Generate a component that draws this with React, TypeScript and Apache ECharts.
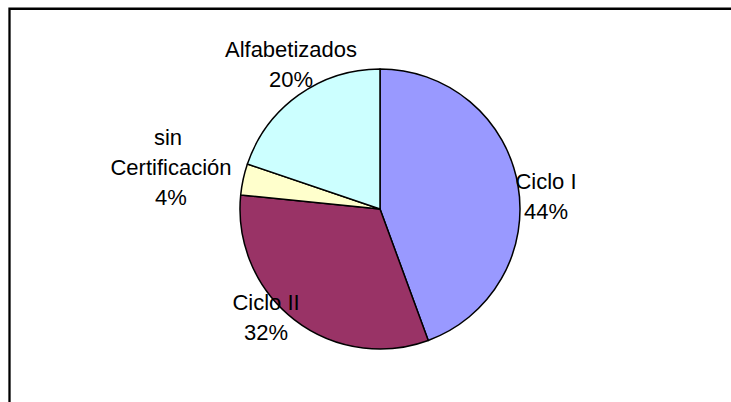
import React, { useEffect, useRef } from "react";
import * as echarts from "echarts";

const categories = ["Ciclo I", "Ciclo II", "sin Certificación", "Alfabetizados"];
const values = [44.4, 32.2, 3.6, 19.8];
const colors = ["#9999FF", "#993366", "#FFFFCC", "#CCFFFF"];

export default function App() {
  const ref = useRef<HTMLDivElement>(null);
  useEffect(() => {
    if (!ref.current) return;
    const chart = echarts.init(ref.current, undefined, { renderer: "svg" });
    const labelCenters: [number, number][] = [
      [546, 196],
      [266, 317],
      [171, 167],
      [291, 64],
    ];
    chart.setOption({
      animation: false,
      backgroundColor: "#ffffff",
      graphic: [
        {
          type: "rect",
          shape: { x: 9.5, y: 8.75, width: 800, height: 500 },
          style: { fill: "none", stroke: "#000000", lineWidth: 2.3 },
          silent: true,
        },
      ],
      series: [
        {
          type: "pie",
          center: [380, 209],
          radius: 140,
          startAngle: 90,
          clockwise: true,
          percentPrecision: 0,
          avoidLabelOverlap: false,
          itemStyle: { borderColor: "#000000", borderWidth: 1.5 },
          emphasis: { disabled: true },
          label: {
            show: true,
            position: "outside",
            formatter: "{b}\n{d}%",
            color: "#000000",
            fontFamily: "'Liberation Sans', Arial, sans-serif",
            fontSize: 22,
            lineHeight: 30,
            align: "center",
          },
          labelLine: { show: false },
          labelLayout: (params: any) => {
            const p = labelCenters[params.dataIndex];
            return { x: p[0], y: p[1], align: "center", verticalAlign: "middle" };
          },
          data: categories.map((name, i) => ({
            name,
            value: values[i],
            itemStyle: { color: colors[i] },
            label: name === "sin Certificación" ? { width: 150, overflow: "break" } : {},
          })),
        },
      ],
    });
    return () => chart.dispose();
  }, []);
  return (
    <div
      ref={ref}
      style={{ position: "fixed", left: 0, top: 0, width: 731, height: 402 }}
    />
  );
}
